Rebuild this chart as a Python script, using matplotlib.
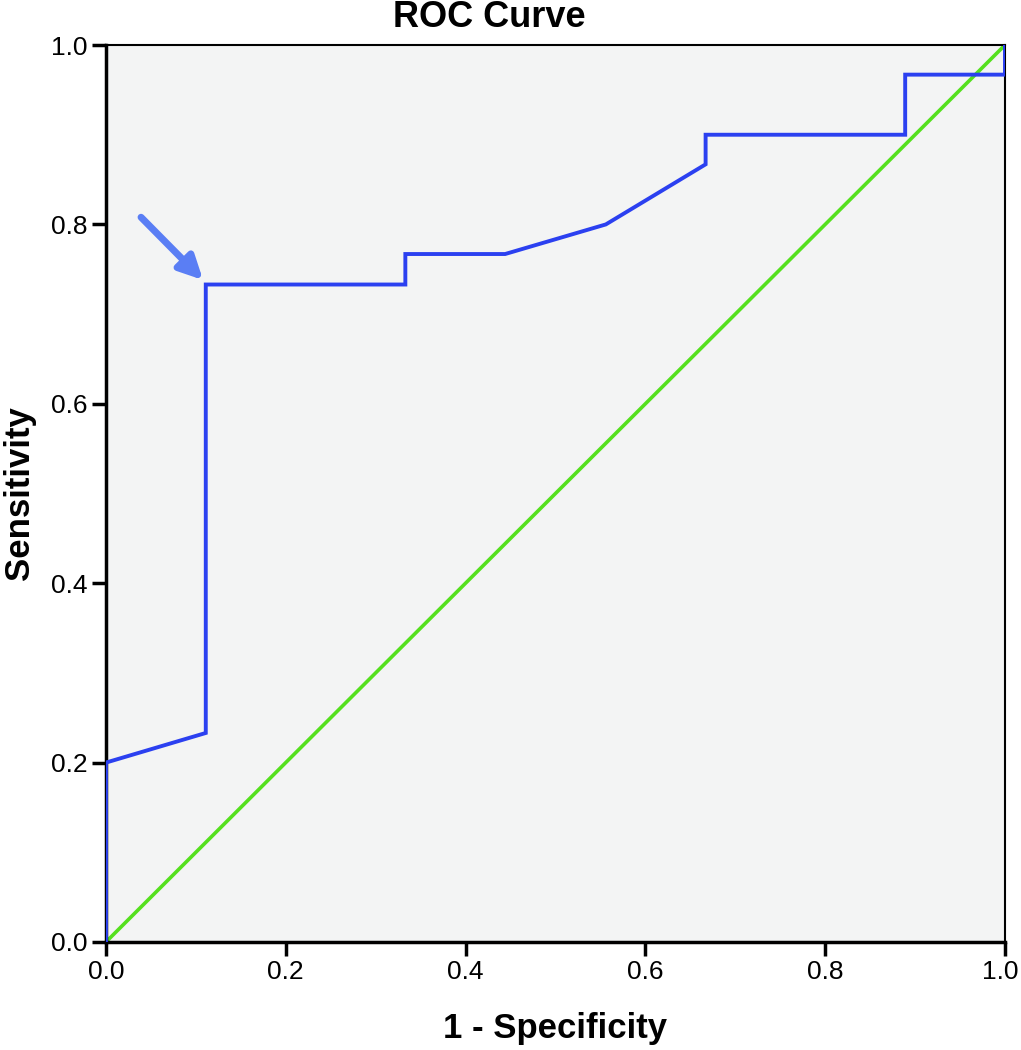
import matplotlib
matplotlib.use("Agg")
import matplotlib.pyplot as plt
from matplotlib.transforms import ScaledTranslation

# ROC curve coordinates
fpr = [0.0, 0.0, 0.111, 0.111, 0.333, 0.333, 0.444, 0.556, 0.667, 0.667, 0.889, 0.889, 1.0, 1.0]
tpr = [0.0, 0.2, 0.233, 0.733, 0.733, 0.767, 0.767, 0.8, 0.867, 0.9, 0.9, 0.967, 0.967, 1.0]
ref_line = [0.0, 1.0]
ticks = [0.0, 0.2, 0.4, 0.6, 0.8, 1.0]
tick_labels = ["0.0", "0.2", "0.4", "0.6", "0.8", "1.0"]

plt.rcParams['font.family'] = ['Liberation Sans', 'DejaVu Sans']

fig = plt.figure(figsize=(10.21, 10.5), dpi=100)
ax = fig.add_axes([0.1038, 0.1029, 0.8805, 0.8542])
ax.set_facecolor('#f3f4f4')

ax.plot(ref_line, ref_line, color='#55e01e', lw=2.6, zorder=2)
ax.plot(fpr, tpr, color='#2b40f0', lw=2.8, zorder=3, solid_joinstyle='miter')

# arrow pointing at the chosen cut-off
ax.annotate('', xy=(fpr[3] - 0.003, tpr[3] + 0.005), xytext=(0.039, 0.808),
            arrowprops=dict(arrowstyle='-|>,head_length=1.4,head_width=0.7',
                            color='#5a7ef4', lw=5, shrinkA=0, shrinkB=0), zorder=4)

ax.set_xlim(0, 1)
ax.set_ylim(0, 1)
ax.set_xticks(ticks)
ax.set_yticks(ticks)
ax.set_xticklabels(tick_labels, fontsize=19)
ax.set_yticklabels(tick_labels, fontsize=19)
ax.tick_params(direction='out', length=10, width=2.5, pad=3)

# nudge the last x label so it stays inside the figure
last = ax.get_xticklabels()[-1]
last.set_transform(last.get_transform() + ScaledTranslation(-5 / 100, 0, fig.dpi_scale_trans))

for side in ['left', 'bottom']:
    ax.spines[side].set_linewidth(2.5)
for side in ['top', 'right']:
    ax.spines[side].set_linewidth(1.5)

fig.text(0.479, 0.983, 'ROC Curve', fontsize=26, fontweight='bold', ha='center', va='center')
ax.set_xlabel('1 - Specificity', fontsize=25, fontweight='bold', labelpad=20)
ax.set_ylabel('Sensitivity', fontsize=25, fontweight='bold', labelpad=11)

fig.savefig('out.png', dpi=100)
